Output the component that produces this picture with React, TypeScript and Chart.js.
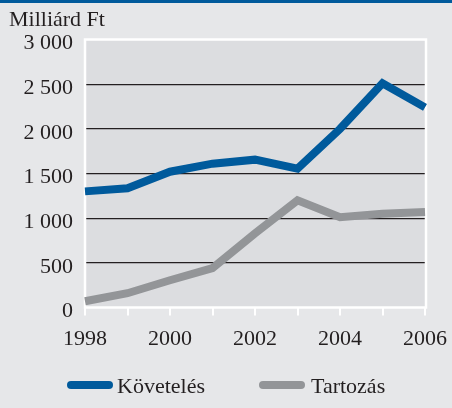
import React, { useEffect, useRef } from "react";
import { Chart, registerables } from "chart.js";

Chart.register(...registerables);

const years = ["1998", "1999", "2000", "2001", "2002", "2003", "2004", "2005", "2006"];
const kovetelés = [1300, 1335, 1520, 1610, 1655, 1555, 2000, 2510, 2240];
const tartozas = [70, 160, 305, 440, 830, 1200, 1010, 1050, 1070];
const seriesNames = ["Követelés", "Tartozás"];
const seriesColors = ["#005a9c", "#939598"];
const yTicks = [0, 500, 1000, 1500, 2000, 2500, 3000];
const unitLabel = "Milliárd Ft";

const FONT = "'Liberation Serif', 'Times New Roman', serif";
const TEXT = "#231f20";

function fmt(v: number): string {
  if (v >= 1000) return `${Math.floor(v / 1000)} ${String(v % 1000).padStart(3, "0")}`;
  return String(v);
}

const decorPlugin = {
  id: "decor",
  beforeDraw(chart: any) {
    const { ctx, chartArea: a, width, height } = chart;
    ctx.save();
    ctx.fillStyle = "#e6e7e9";
    ctx.fillRect(0, 0, width, height);
    ctx.fillStyle = "#005a9c";
    ctx.fillRect(0, 0, width, 3);
    ctx.fillStyle = "#dcdde0";
    ctx.fillRect(a.left, a.top, a.right - a.left, a.bottom - a.top);
    ctx.fillStyle = TEXT;
    ctx.font = `22px ${FONT}`;
    ctx.textBaseline = "alphabetic";
    ctx.textAlign = "left";
    ctx.fillText(unitLabel, 9, 26);
    ctx.restore();
  },
  beforeDatasetsDraw(chart: any) {
    const { ctx, chartArea: a } = chart;
    ctx.save();
    ctx.strokeStyle = "#ffffff";
    ctx.lineWidth = 2.5;
    ctx.strokeRect(a.left, a.top, a.right - a.left + 1, a.bottom - a.top);
    ctx.restore();
  },
  afterDraw(chart: any) {
    const { ctx } = chart;
    const items = [
      { x1: 67, x2: 113, tx: 117 },
      { x1: 259, x2: 305, tx: 311 },
    ];
    ctx.save();
    chart.data.datasets.forEach((ds: any, i: number) => {
      const it = items[i];
      ctx.strokeStyle = ds.borderColor;
      ctx.lineWidth = 8;
      ctx.lineCap = "round";
      ctx.beginPath();
      ctx.moveTo(it.x1 + 4, 385);
      ctx.lineTo(it.x2 - 4, 385);
      ctx.stroke();
      ctx.fillStyle = TEXT;
      ctx.font = `22px ${FONT}`;
      ctx.textBaseline = "alphabetic";
      ctx.textAlign = "left";
      ctx.fillText(ds.label, it.tx, 393);
    });
    ctx.restore();
  },
};

export default function App() {
  const ref = useRef<HTMLCanvasElement | null>(null);

  useEffect(() => {
    if (!ref.current) return;
    const chart = new Chart(ref.current, {
      type: "line",
      data: {
        labels: years,
        datasets: [
          {
            label: seriesNames[0],
            data: kovetelés,
            borderColor: seriesColors[0],
            backgroundColor: seriesColors[0],
            borderWidth: 8,
            pointRadius: 0,
            tension: 0,
            borderJoinStyle: "miter",
            borderCapStyle: "butt",
          },
          {
            label: seriesNames[1],
            data: tartozas,
            borderColor: seriesColors[1],
            backgroundColor: seriesColors[1],
            borderWidth: 8,
            pointRadius: 0,
            tension: 0,
            borderJoinStyle: "miter",
            borderCapStyle: "butt",
          },
        ],
      },
      options: {
        responsive: false,
        animation: false,
        layout: { padding: { top: 39.5, right: 27, left: 0, bottom: 0 } },
        plugins: { legend: { display: false }, tooltip: { enabled: false }, title: { display: false } },
        scales: {
          x: {
            type: "category",
            offset: false,
            border: { display: false },
            grid: {
              drawOnChartArea: false,
              drawTicks: true,
              tickLength: 8,
              color: "#ffffff",
              lineWidth: 2,
            },
            ticks: {
              autoSkip: false,
              maxRotation: 0,
              minRotation: 0,
              padding: 11,
              color: TEXT,
              font: { family: FONT, size: 22 },
              callback: (_v: any, i: number) => (i % 2 === 0 ? years[i] : ""),
            },
            afterFit: (s: any) => {
              s.height = 100.5;
              s.paddingLeft = 0;
              s.paddingRight = 0;
            },
          },
          y: {
            min: 0,
            max: 3000,
            border: { display: false },
            afterBuildTicks: (s: any) => {
              s.ticks = yTicks.map((v) => ({ value: v }));
            },
            grid: {
              drawTicks: false,
              lineWidth: 1.2,
              color: (c: any) =>
                c.tick && (c.tick.value === 0 || c.tick.value === 3000) ? "rgba(0,0,0,0)" : "#231f20",
            },
            ticks: {
              padding: 12,
              labelOffset: 4,
              color: TEXT,
              font: { family: FONT, size: 22 },
              callback: (v: any) => fmt(Number(v)),
            },
            afterFit: (s: any) => {
              s.width = 85;
              s.paddingTop = 0;
              s.paddingBottom = 0;
            },
          },
        },
      },
      plugins: [decorPlugin],
    } as any);
    return () => chart.destroy();
  }, []);

  return (
    <div style={{ position: "fixed", left: 0, top: 0, width: 452, height: 408 }}>
      <canvas ref={ref} width={452} height={408} style={{ display: "block" }} />
    </div>
  );
}
